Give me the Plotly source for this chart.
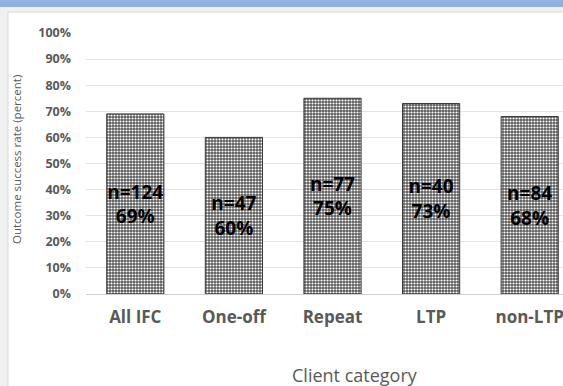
import plotly.graph_objects as go

# Outcome success rate by client category
categories = ["All IFC", "One-off", "Repeat", "LTP", "non-LTP"]
success_pct = [69, 60, 75, 73, 68]
n_clients = [124, 47, 77, 40, 84]
y_ticks = [0, 10, 20, 30, 40, 50, 60, 70, 80, 90, 100]

W, H = 563, 386
ML, MR, MT, MB = 86, 0, 33, 92
PW, PH = W - ML - MR, H - MT - MB
FONT = "Open Sans, Lato, sans-serif"


def px_x(px):
    return (px - ML) / PW


def px_y(py):
    return (H - MB - py) / PH


labels = [f"n={n}<br>{p}%" for n, p in zip(n_clients, success_pct)]

fig = go.Figure()
fig.add_trace(go.Bar(
    x=categories,
    y=success_pct,
    text=labels,
    textposition="inside",
    insidetextanchor="middle",
    textangle=0,
    constraintext="none",
    textfont=dict(family=FONT, size=19, color="#000000", weight="bold"),
    marker=dict(
        color="#595959",
        line=dict(color="#3a3a3a", width=1),
        pattern=dict(shape=".", size=3, solidity=0.4, fgcolor="#ffffff", bgcolor="#595959", fillmode="replace"),
    ),
    hoverinfo="skip",
    cliponaxis=False,
))

# frame: gray surround, blue top band, white chart panel
shapes = [
    dict(type="rect", xref="paper", yref="paper", layer="below",
         x0=px_x(0), x1=px_x(W), y0=px_y(H), y1=px_y(0),
         fillcolor="#f0f0f0", line=dict(width=0)),
    dict(type="rect", xref="paper", yref="paper", layer="below",
         x0=px_x(8), x1=px_x(W + 2), y0=px_y(H + 2), y1=px_y(12),
         fillcolor="#ffffff", line=dict(color="#d9d9d9", width=1)),
    dict(type="rect", xref="paper", yref="paper", layer="below",
         x0=px_x(0), x1=px_x(W), y0=px_y(7), y1=px_y(0),
         fillcolor="#8db3e2", line=dict(width=0)),
]

annotations = [
    dict(text="Client category", xref="paper", yref="paper",
         x=px_x(355), y=px_y(375), xanchor="center", yanchor="middle",
         showarrow=False, font=dict(family=FONT, size=18, color="#595959")),
    dict(text="Outcome success rate (percent)", xref="paper", yref="paper",
         x=px_x(16), y=px_y(160), xanchor="center", yanchor="middle", textangle=-90,
         showarrow=False, font=dict(family=FONT, size=11.5, color="#595959")),
]

fig.update_layout(
    width=W, height=H,
    margin=dict(l=ML, r=MR, t=MT, b=MB),
    paper_bgcolor="#f0f0f0",
    plot_bgcolor="rgba(0,0,0,0)",
    bargap=0.42,
    showlegend=False,
    shapes=shapes,
    annotations=annotations,
    xaxis=dict(
        range=[-0.5, -0.5 + PW / 98.6],
        showgrid=False, showline=False, zeroline=False, ticks="",
        tickfont=dict(family=FONT, size=17, color="#595959", weight="bold"),
        ticklabelstandoff=11,
    ),
    yaxis=dict(
        range=[0, 100],
        tickvals=y_ticks,
        ticktext=[f"{v}%" for v in y_ticks],
        showgrid=True, gridcolor="#e3e3e3", gridwidth=1,
        zeroline=True, zerolinecolor="#d0d0d0", zerolinewidth=1,
        showline=False, ticks="",
        tickfont=dict(family=FONT, size=12.5, color="#595959", weight="bold"),
        ticklabelstandoff=14,
    ),
)

fig.write_html("out.html")
